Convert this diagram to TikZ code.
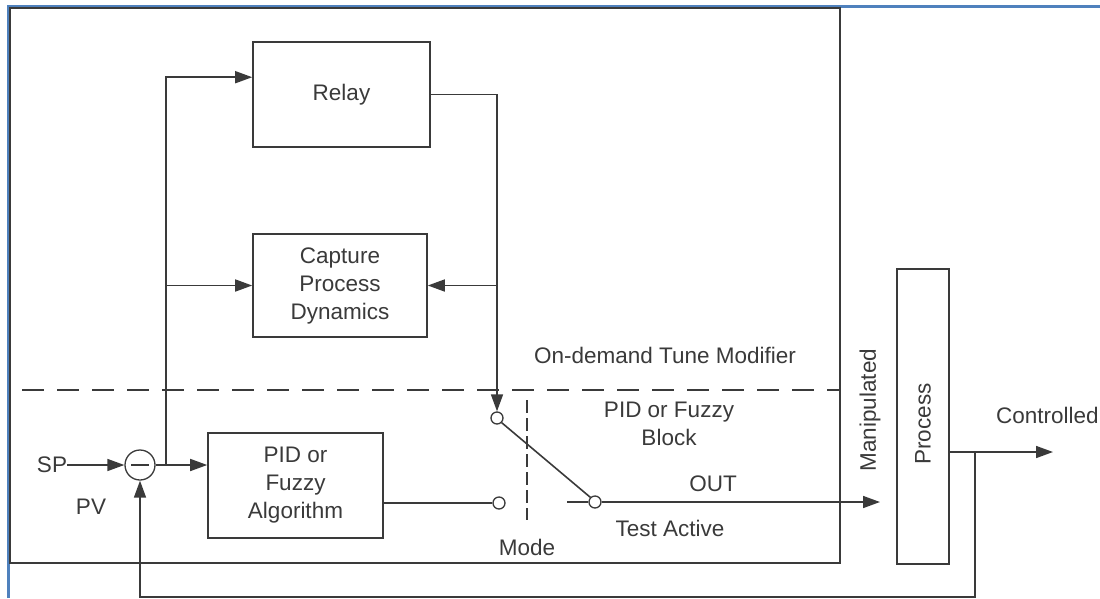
\documentclass[tikz,border=0pt]{standalone}
\usepackage{fontspec}
\setmainfont{Liberation Sans}
\usetikzlibrary{arrows.meta,calc}
\definecolor{ink}{RGB}{58,58,58}
\definecolor{frameblue}{RGB}{79,129,189}

\begin{document}
\begin{tikzpicture}[x=1pt,y=-1pt,
  txt/.style={font=\fontsize{22.5}{28}\selectfont, text=ink, inner sep=0pt, align=center},
  blk/.style={draw=ink, line width=1.6pt, font=\fontsize{22.5}{28}\selectfont,
              text=ink, inner sep=0pt, align=center},
  wire/.style={draw=ink, line width=1.6pt},
  arr/.style={wire, -{Triangle[length=17pt,width=12pt]}},
  pin/.style={circle, draw=ink, line width=1.3pt, fill=white, minimum size=12pt, inner sep=0pt},
  dashline/.style={draw=ink, line width=1.6pt, dash pattern=on 22pt off 13pt},
  modeline/.style={draw=ink, line width=1.3pt, dash pattern=on 13pt off 5pt}]

\useasboundingbox (0,0) rectangle (1100,598);

% outer frame (top and left edges)
\draw[frameblue, line width=3pt] (8,598) -- (8,6) -- (1100,6);

% tune modifier enclosure
\draw[wire] (10,8) rectangle (840,563);

% dashed boundary between modifier and controller block
\draw[dashline] (22,390) -- (840,390);
\draw[modeline] (527,400) -- (527,520);

% blocks
\node[blk, minimum width=177pt, minimum height=105pt] (relay) at (341.5,94.5) {Relay};
\node[blk, minimum width=174pt, minimum height=103pt] (capture) at (340,285.5) {Capture\\Process\\Dynamics};
\node[blk, minimum width=175pt, minimum height=105pt] (pid) at (295.5,485.5) {PID or\\Fuzzy\\Algorithm};
\node[blk, minimum width=52pt, minimum height=295pt] (process) at (923,416.5) {};
\node[txt, rotate=90] (proclbl) at (923,424) {Process};

% summing junction
\node[circle, draw=ink, line width=1.3pt, minimum size=30pt, inner sep=0pt] (sum) at (140,465) {};
\draw[wire] ($(sum.center)+(-9,0)$) -- ($(sum.center)+(9,0)$);

% switch contacts
\node[pin] (st) at (497,418) {};
\node[pin] (sl) at (499,503) {};
\node[pin] (sr) at (595,502) {};

% labels
\node[txt] (sp) at (52,465) {SP};
\node[txt] (pv) at (91,507) {PV};
\node[txt] (modelbl) at (527,547) {Mode};
\node[txt] (testlbl) at (670,528) {Test Active};
\node[txt] (outlbl) at (713,484) {OUT};
\node[txt] (blocklbl) at (669,424) {PID or Fuzzy\\Block};
\node[txt] (tunelbl) at (665,355) {On-demand Tune Modifier};
\node[txt, rotate=90] (maniplbl) at (870,410) {Manipulated};
\node[txt, anchor=west] (ctrllbl) at (996,415) {Controlled};

% named connector points
\coordinate (b1) at (166,465);
\coordinate (rin) at ([yshift=-36pt]relay.north west);
\coordinate (j1) at (st.north |- capture.east);
\coordinate (stub) at (567,502);
\coordinate (mv) at (880,502);
\coordinate (pout) at ([yshift=-35.5pt]process.east);
\coordinate (cv) at (1053,452);
\coordinate (fb) at (975,452);
\coordinate (fbb) at (975,597);

% connectors
\draw[arr] (sp.east) -- (sum.west);
\draw[arr] (sum.east) -- (sum.east -| pid.west);
\draw[arr] (b1) |- (rin);
\draw[arr] (b1 |- capture.west) -- (capture.west);
\draw[arr] (relay.east) -| (st.north);
\draw[arr] (j1) -- (capture.east);
\draw[wire] (pid.east |- sl.west) -- (sl.west);
\draw[wire] (st.south east) -- (sr.north west);
\draw[wire] (stub) -- (sr.west);
\draw[arr] (sr.east) -- (mv);
\draw[arr] (pout) -- (cv);
\draw[arr] (fb) -- (fbb) -| (sum.south);

\end{tikzpicture}
\end{document}
